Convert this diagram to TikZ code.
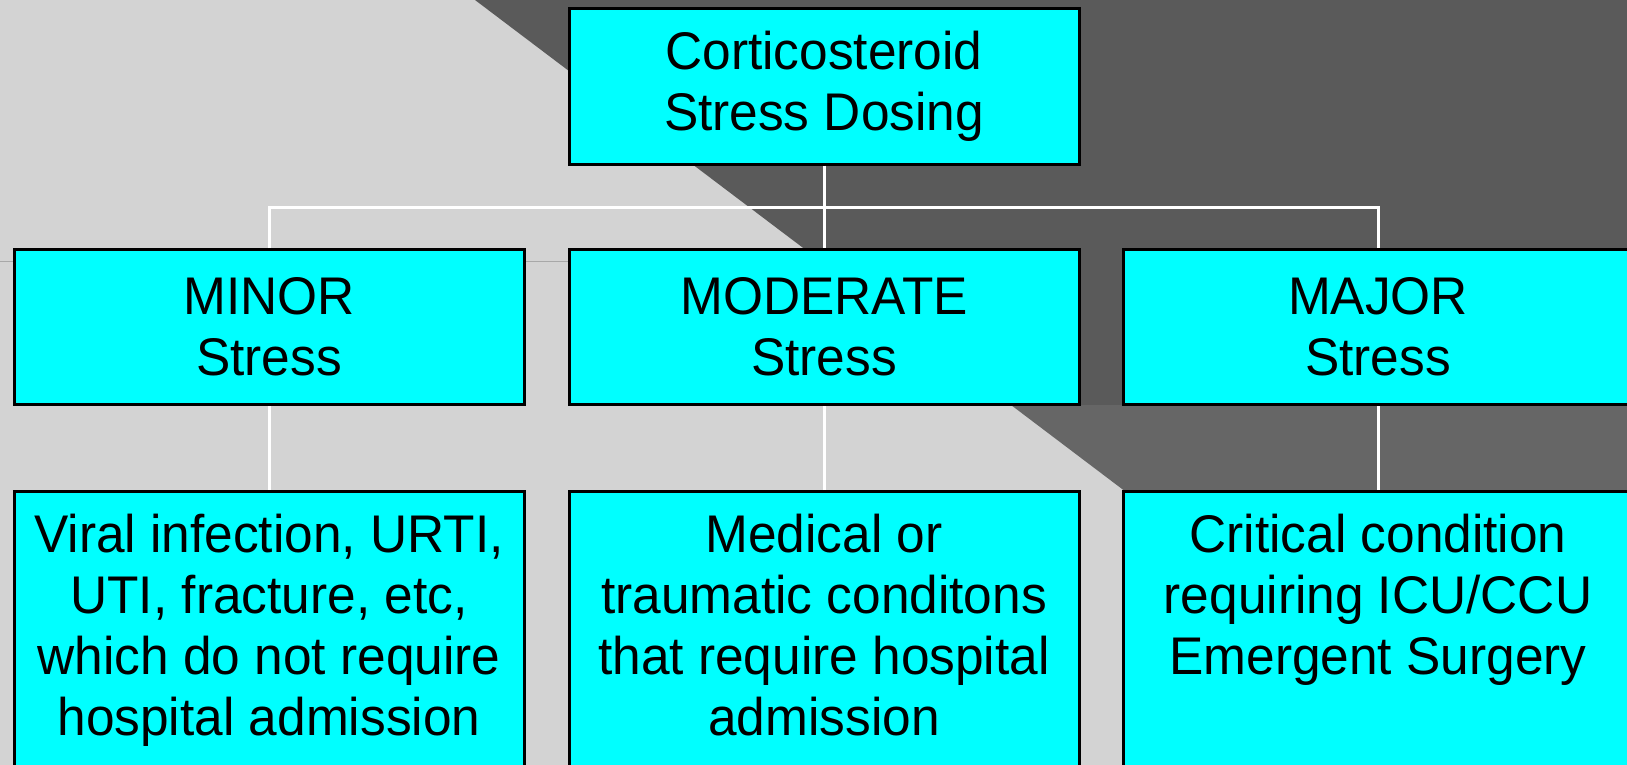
\documentclass[tikz,border=0pt]{standalone}
\usepackage{fontspec}
\setmainfont{Liberation Sans}[FakeStretch=0.97]
\usepackage{tikz}
\usetikzlibrary{positioning}

\definecolor{boxcyan}{HTML}{00FFFF}
\definecolor{bglight}{HTML}{D3D3D3}
\definecolor{bgdark}{HTML}{5A5A5A}
\definecolor{bgdarker}{HTML}{666666}
\definecolor{rulegray}{HTML}{A8A8A8}

\begin{document}
\begin{tikzpicture}[
  x=1pt, y=-1pt,
  every node/.style={font=\fontsize{53}{61}\selectfont},
  head/.style={rectangle, draw=black, fill=boxcyan, line width=3pt, minimum width=510pt, minimum height=155pt, inner sep=0pt, align=center},
  level/.style={head},
  detail/.style={rectangle, draw=black, fill=boxcyan, line width=3pt, minimum width=510pt, inner sep=0pt, anchor=north},
  link/.style={draw=white, line width=3pt}
]
  \useasboundingbox (0,0) rectangle (1627,765);
  \clip (0,0) rectangle (1627,765);
  \fill[bglight] (0,0) rectangle (1627,765);
  \fill[bgdark] (475,0) -- (1627,0) -- (1627,405) -- (1011,405) -- cycle;
  \fill[bgdarker] (1011,405) -- (1627,405) -- (1627,765) -- (1487,765) -- cycle;
  \draw[rulegray, line width=1pt] (0,261) -- (820,261);

  \node[head] (dosing) at (824,86.5) {Corticosteroid\\Stress Dosing};

  \node[level] (minor) at (269,327) {MINOR\\Stress};
  \node[level] (moderate) at (824,327) {MODERATE\\Stress};
  \node[level] (major) at (1378,327) {MAJOR\\Stress};

  \node[detail] (minorcase) at (269,490) {\parbox[c][320pt][t]{500pt}{\centering\vspace{23pt}Viral infection, URTI,\\UTI, fracture, etc,\\which do not require\\hospital admission}};
  \node[detail] (moderatecase) at (824,490) {\parbox[c][320pt][t]{500pt}{\centering\vspace{23pt}Medical or\\traumatic conditons\\that require hospital\\admission}};
  \node[detail] (majorcase) at (1378,490) {\parbox[c][320pt][t]{500pt}{\centering\vspace{23pt}Critical condition\\requiring ICU/CCU\\Emergent Surgery}};

  \coordinate (bus) at (824,207);
  \draw[link] (dosing.south) -- (moderate.north);
  \draw[link] (minor.north) |- (bus) -| (major.north);
  \draw[link] (minor.south) -- (minorcase.north);
  \draw[link] (moderate.south) -- (moderatecase.north);
  \draw[link] (major.south) -- (majorcase.north);
\end{tikzpicture}
\end{document}
